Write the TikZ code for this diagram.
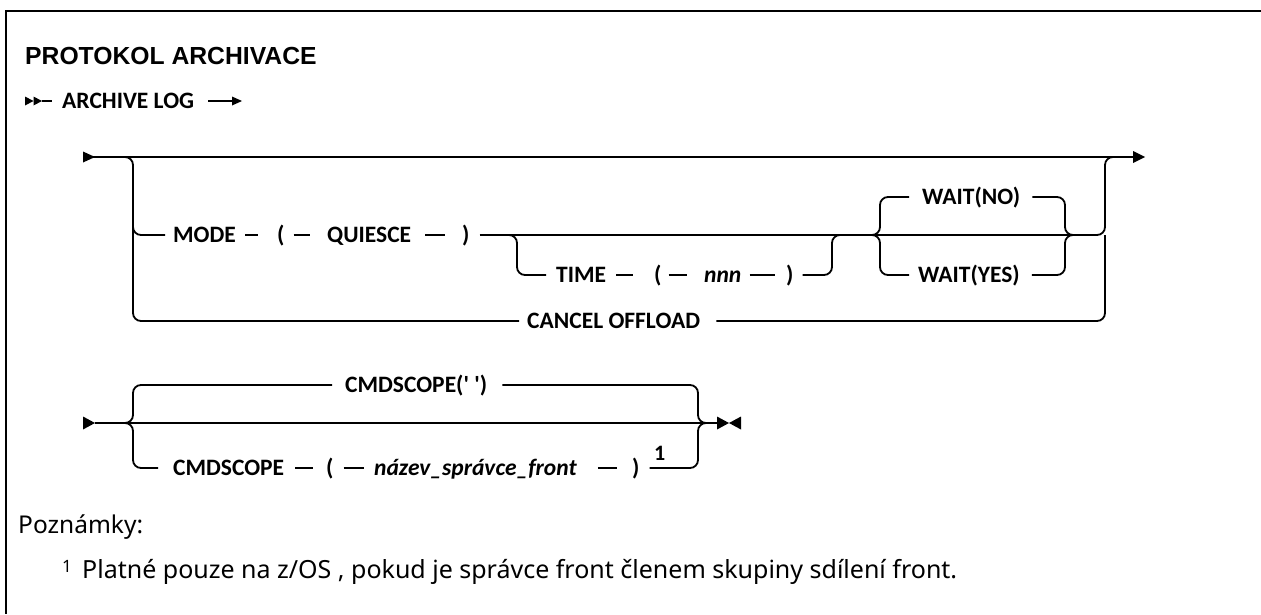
\documentclass[tikz,border=0pt]{standalone}
\usepackage{fontspec}
\setmainfont{Noto Sans}
\newfontfamily\labfont{Carlito}
\newfontfamily\titlefont{Liberation Sans}
\begin{document}
\begin{tikzpicture}[x=1pt,y=-1pt,
  lab/.style={font=\labfont\bfseries\fontsize{23.5}{27}\selectfont, inner sep=0pt, text height=15.1pt, text depth=0pt, anchor=west},
  ilab/.style={lab, font=\labfont\bfseries\itshape\fontsize{23.5}{27}\selectfont},
  ln/.style={line width=1.8pt},
  rc/.style={ln, rounded corners=8pt},
  tip/.style={fill=black}]
\useasboundingbox (0,0) rectangle (1261,614);
% frame
\draw[line width=2.5pt] (1261,11) -- (6,11) -- (6,614);
% title
\node[anchor=base west, inner sep=0pt, font=\titlefont\bfseries\fontsize{24.7}{28}\selectfont] (title) at (25,64) {PROTOKOL ARCHIVACE};
% ARCHIVE LOG line
\coordinate (a1) at (42,101);
\coordinate (a2) at (242,101);
\fill[tip] (25,96.5) -- (33.5,101) -- (25,105.5) -- cycle;
\fill[tip] (33.5,96.5) -- (42,101) -- (33.5,105.5) -- cycle;
\node[lab] (arch) at (62,101) {ARCHIVE LOG};
\draw[ln, shorten >=10pt] (a1) -- (arch.west);
\draw[ln, shorten <=14pt, shorten >=10pt] (arch.east) -- (a2);
\fill[tip] (232,96.5) -- (242,101) -- (232,105.5) -- cycle;
% ---------- first diagram ----------
\coordinate (s1) at (93,157);
\coordinate (e1) at (1133,157);
\fill[tip] (83,151.5) -- (95,157) -- (83,162.5) -- cycle;
\draw[ln] (s1) -- (e1);
\fill[tip] (1133,151) -- (1145,157) -- (1133,163) -- cycle;
% nodes
\node[lab] (mode) at (173,235) {MODE};
\node[lab] (lp1) at (277,235) {(};
\node[lab] (quiesce) at (327,235) {QUIESCE};
\node[lab] (rp1) at (462,235) {)};
\node[lab] (time) at (556,275) {TIME};
\node[lab] (lp2) at (654,275) {(};
\node[ilab] (nnn) at (704,275) {nnn};
\node[lab] (rp2) at (786,275) {)};
\node[lab] (waitno) at (922,197) {WAIT(NO)};
\node[lab] (waityes) at (918,275) {WAIT(YES)};
\node[lab] (cancel) at (527,321) {CANCEL OFFLOAD};
% coordinates
\coordinate (bl) at (125,157);
\coordinate (blv) at (133,157);
\coordinate (blm) at (133,235);
\coordinate (blb) at (133,321);
\coordinate (tb0) at (509,235);
\coordinate (tbv) at (517,235);
\coordinate (tbb) at (517,275);
\coordinate (te) at (832,275);
\coordinate (tev) at (832,235);
\coordinate (te1) at (840,235);
\coordinate (wl) at (872,235);
\coordinate (wlv) at (880,235);
\coordinate (wlt) at (880,197);
\coordinate (wlb) at (880,275);
\coordinate (wr) at (1073,235);
\coordinate (wrv) at (1065,235);
\coordinate (wrt) at (1065,197);
\coordinate (wrb) at (1065,275);
\coordinate (br) at (1113,157);
\coordinate (brv) at (1105,157);
\coordinate (brm) at (1105,235);
\coordinate (brb) at (1105,321);
% big left bracket
\draw[rc, shorten >=8pt] (bl) -- (blv) -- (blb) -- (cancel.west);
\draw[rc, shorten >=8pt] (133,200) -- (blm) -- (mode.west);
% MODE row
\draw[ln, shorten <=9pt, shorten >=19pt] (mode.east) -- (lp1.west);
\draw[ln, shorten <=9pt, shorten >=17pt] (lp1.east) -- (quiesce.west);
\draw[ln, shorten <=14pt, shorten >=17pt] (quiesce.east) -- (rp1.west);
\draw[ln, shorten <=10pt] (rp1.east) -- (wl);
\draw[ln] (wl) -- (wr);
% TIME branch
\draw[rc, shorten >=10pt] (tb0) -- (tbv) -- (tbb) -- (time.west);
\draw[ln, shorten <=10pt, shorten >=21pt] (time.east) -- (lp2.west);
\draw[ln, shorten <=7pt, shorten >=17pt] (lp2.east) -- (nnn.west);
\draw[ln, shorten <=8pt, shorten >=11pt] (nnn.east) -- (rp2.west);
\draw[rc, shorten <=9pt] (rp2.east) -- (te) -- (tev) -- (te1);
% WAIT braces
\draw[rc, shorten >=13pt] (wl) -- (wlv) -- (wlt) -- (waitno.west);
\draw[rc, shorten >=9pt] (wl) -- (wlv) -- (wlb) -- (waityes.west);
\draw[rc, shorten <=12pt] (waitno.east) -- (wrt) -- (wrv) -- (wr);
\draw[rc, shorten <=12pt] (waityes.east) -- (wrb) -- (wrv) -- (wr);
% big right bracket
\draw[rc] (wr) -- (brm) -- (brv) -- (br);
\draw[rc, shorten <=16pt] (cancel.east) -- (brb) -- (brm);
% ---------- second diagram ----------
\coordinate (s2) at (95,423);
\coordinate (e2) at (717,423);
\fill[tip] (83,416.5) -- (95,423) -- (83,429.5) -- cycle;
\draw[ln] (s2) -- (e2);
\fill[tip] (717,416.5) -- (729,423) -- (717,429.5) -- cycle;
\fill[tip] (741,416.5) -- (729,423) -- (741,429.5) -- cycle;
\node[lab] (cmd1) at (345,385) {CMDSCOPE(' ')};
\node[lab] (cmd2) at (173,468) {CMDSCOPE};
\node[lab] (lp3) at (326,468) {(};
\node[ilab] (qmgr) at (374,468) {název\_správce\_front};
\node[lab] (rp3) at (632,468) {)};
\node[inner sep=0pt, anchor=base west, font=\labfont\bfseries\fontsize{22}{24}\selectfont] (fn1) at (654,460) {1};
\coordinate (ll) at (125,423);
\coordinate (llv) at (133,423);
\coordinate (llt) at (133,385);
\coordinate (llb) at (133,468);
\coordinate (rr) at (706,423);
\coordinate (rrv) at (698,423);
\coordinate (rrt) at (698,385);
\coordinate (rrb) at (698,468);
\draw[rc, shorten >=13pt] (ll) -- (llv) -- (llt) -- (cmd1.west);
\draw[rc, shorten >=15pt] (ll) -- (llv) -- (llb) -- (cmd2.west);
\draw[rc, shorten <=15pt] (cmd1.east) -- (rrt) -- (rrv) -- (rr);
\draw[ln, shorten <=11pt, shorten >=13pt] (cmd2.east) -- (lp3.west);
\draw[ln, shorten <=10pt, shorten >=10pt] (lp3.east) -- (qmgr.west);
\draw[ln, shorten <=21pt, shorten >=15pt] (qmgr.east) -- (rp3.west);
\draw[rc, shorten <=10pt] (rp3.east) -- (rrb) -- (rrv) -- (rr);
% notes
\node[anchor=base west, inner sep=0pt, font=\fontsize{24.5}{28}\selectfont] (notes) at (18,533) {Poznámky:};
\node[anchor=base west, inner sep=0pt, font=\fontsize{17}{18}\selectfont] (fn2) at (62,572) {1};
\node[anchor=base west, inner sep=0pt, font=\fontsize{25}{28}\selectfont] (fntext) at (82,578) {Platné pouze na z/OS , pokud je správce front členem skupiny sdílení front.};
\end{tikzpicture}
\end{document}
